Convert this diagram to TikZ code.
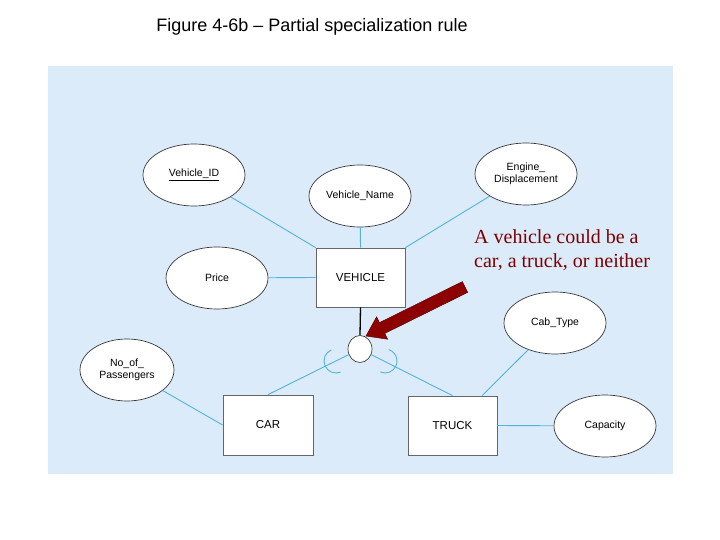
\documentclass[tikz,border=0pt]{standalone}
\usepackage{fontspec}
\setmainfont{Liberation Sans}
\newfontfamily\redserif{Liberation Serif}
\usetikzlibrary{shapes.geometric,calc}
\definecolor{bgblue}{RGB}{219,235,249}
\definecolor{linkblue}{RGB}{84,178,222}
\definecolor{arrowred}{RGB}{140,0,0}
\definecolor{arrowdark}{RGB}{100,0,0}
\definecolor{textred}{RGB}{125,0,0}
\tikzset{
  attr/.style={ellipse, draw=black!78, fill=white, line width=0.7pt,
    minimum width=102pt, minimum height=62pt, inner sep=0pt, align=center,
    font=\fontsize{10.5}{12.5}\selectfont},
  ent/.style={rectangle, draw=black!60, fill=white, line width=0.8pt,
    minimum width=89pt, minimum height=59pt, inner sep=0pt,
    font=\fontsize{11.5}{13}\selectfont},
  link/.style={draw=linkblue, line width=0.9pt},
  subarc/.style={draw=linkblue, line width=0.9pt},
  iscircle/.style={ellipse, draw=black!75, fill=white, line width=0.7pt,
    minimum width=24pt, minimum height=27pt, inner sep=0pt}
}
\begin{document}
\begin{tikzpicture}[x=1pt,y=1pt]
\useasboundingbox (0,0) rectangle (720,-540);
\fill[bgblue] (48,-66) rectangle (673,-474);
\node[font=\fontsize{18}{20}\selectfont, anchor=base, inner sep=0pt] (title) at (312,-32) {Figure 4-6b – Partial specialization rule};

% entities
\node[ent] (veh) at (360.5,-277.5) {VEHICLE};
\node[ent, minimum width=90pt, minimum height=60pt] (car) at (268,-425) {CAR};
\node[ent, minimum height=59pt] (truck) at (452.5,-425.5) {TRUCK};

% attributes
\node[attr] (vid) at (194,-175) {\underline{Vehicle\_ID}};
\node[attr] (vname) at (360,-196) {Vehicle\_Name};
\node[attr] (eng) at (526,-174) {Engine\_\\Displacement};
\node[attr] (price) at (217,-278) {Price};
\node[attr, minimum width=94pt] (nop) at (127,-370) {No\_of\_\\Passengers};
\node[attr] (cab) at (555,-323) {Cab\_Type};
\node[attr] (cap) at (605,-426) {Capacity};

% specialization circle
\node[iscircle] (circ) at (360,-349) {};

% connectors
\draw[link] (vid) -- (veh.north west);
\draw[link] (vname) -- (veh.north);
\draw[link] (eng) -- (veh.north east);
\draw[link] (price) -- (veh.west);
\draw[black, line width=1.3pt] (veh.south) -- (circ.north);
\draw[link] (circ) -- (car.north);
\draw[link] (circ) -- (truck.north);
\draw[link] (nop) -- (car.west);
\coordinate (truckcab) at ($(truck.north west)!0.83!(truck.north east)$);
\draw[link] (cab) -- (truckcab);
\draw[link] (truck.east) -- (cap);

% subset symbols
\draw[subarc] (336,-361) ++(113:12) arc[start angle=113, end angle=293, radius=12];
\draw[subarc] (385,-361) ++(-113:12) arc[start angle=-113, end angle=72, radius=12];

% annotation arrow
\filldraw[fill=arrowred, draw=arrowdark, line width=0.5pt]
  (462.34,-281.62) -- (379.47,-322.64) -- (376.59,-316.82) -- (366,-336)
  -- (387.67,-339.22) -- (384.79,-333.40) -- (467.66,-292.38) -- cycle;

\node[anchor=north west, align=left, inner sep=0pt, text=textred,
  font=\redserif\fontsize{20}{24}\selectfont] (note) at (474,-229)
  {A vehicle could be a\\car, a truck, or neither};
\end{tikzpicture}
\end{document}
